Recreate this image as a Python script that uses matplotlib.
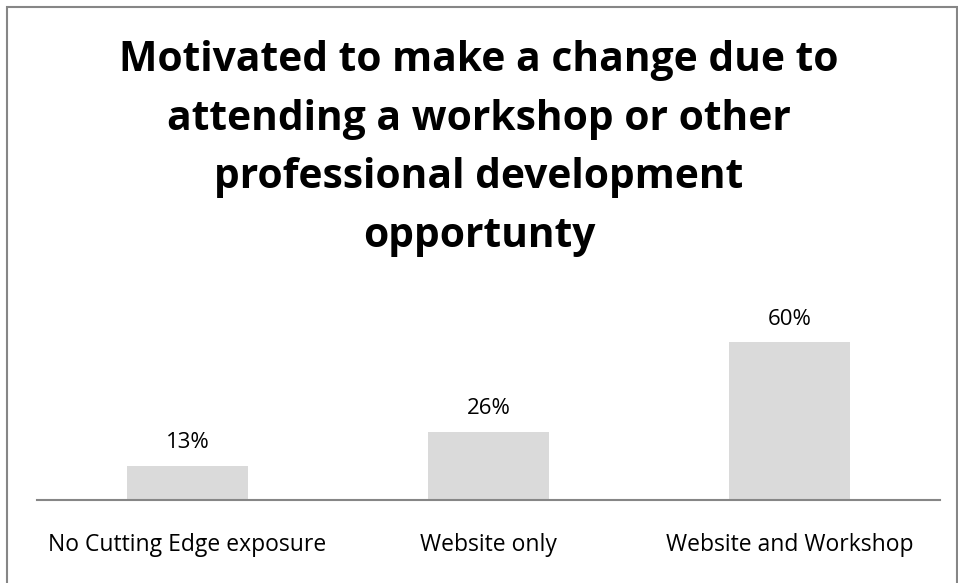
import matplotlib
matplotlib.use("Agg")
import matplotlib.pyplot as plt
from matplotlib import font_manager

categories = ["No Cutting Edge exposure", "Website only", "Website and Workshop"]
values = [13, 26, 60]
value_labels = ["13%", "26%", "60%"]
title = "Motivated to make a change due to\nattending a workshop or other\nprofessional development\nopportunty"

names = sorted({f.name for f in font_manager.fontManager.ttflist})
title_font = "Liberation Sans Narrow" if "Liberation Sans Narrow" in names else "Open Sans"
label_font = "Open Sans"

fig = plt.figure(figsize=(9.58, 5.83), dpi=100)
ax = fig.add_axes([0.0386, 0.1424, 0.9426, 0.3602])

x = list(range(len(categories)))
ax.bar(x, values, width=0.4, color="#dadada")
for xi, v, lab in zip(x, values, value_labels):
    ax.annotate(lab, (xi, v), xytext=(0, 9), textcoords="offset points",
                ha="center", va="bottom", fontsize=16, family=label_font, color="#000000")

ax.set_xlim(-0.5, 2.5)
ax.set_ylim(0, 80)
for s in ["top", "right", "left"]:
    ax.spines[s].set_visible(False)
ax.spines["bottom"].set_color("#868686")
ax.spines["bottom"].set_linewidth(1.5)
ax.set_yticks([])
ax.set_xticks(x)
ax.set_xticklabels(categories, fontsize=16.5, family=label_font)
ax.tick_params(axis="x", length=0, pad=23.5)

fig.text(0.5, 0.745, title, ha="center", va="center", fontsize=29.3, fontweight="bold",
         family=title_font, linespacing=1.57)

# chart border
border = plt.Rectangle((0.0075, -0.01), 0.991, 0.998, transform=fig.transFigure,
                       fill=False, edgecolor="#868686", linewidth=1.5)
fig.patches.append(border)

fig.savefig("out.png", dpi=100)
